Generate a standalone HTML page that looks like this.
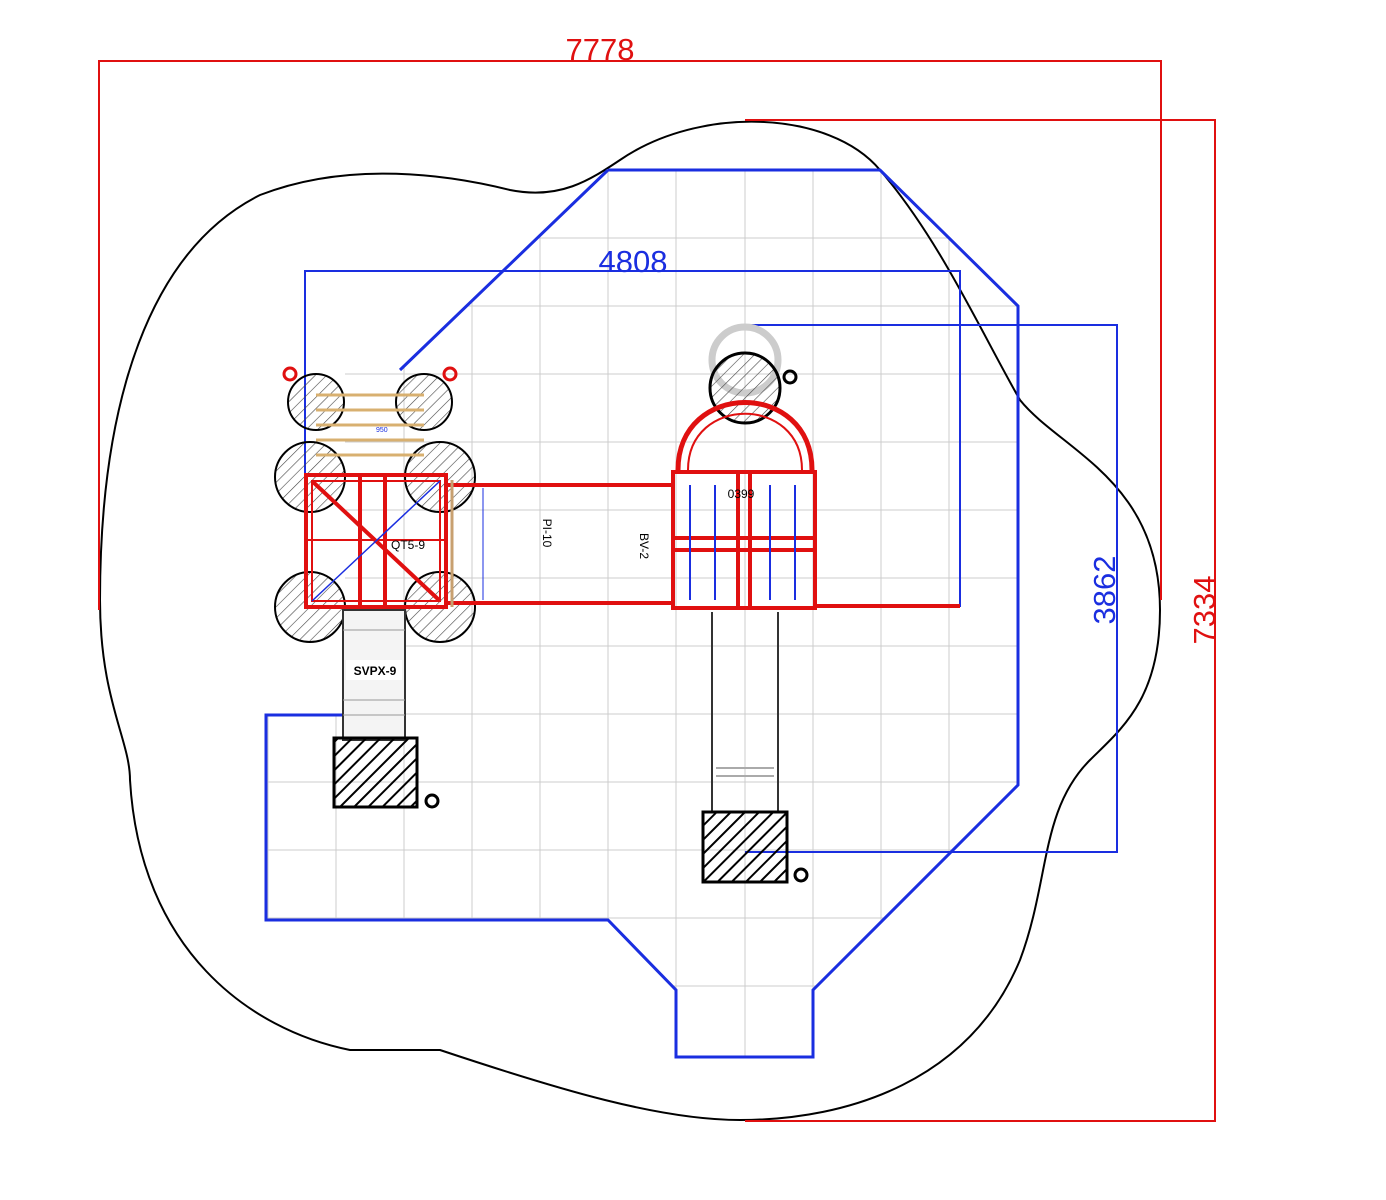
<!DOCTYPE html>
<html><head><meta charset="utf-8"><style>html,body{margin:0;padding:0;background:#fff}svg{display:block}</style></head>
<body>
<svg width="1386" height="1200" viewBox="0 0 1386 1200" xmlns="http://www.w3.org/2000/svg" font-family="Liberation Sans, sans-serif">
<defs>
<pattern id="h" patternUnits="userSpaceOnUse" width="8" height="8" patternTransform="rotate(45)"><line x1="0" y1="0" x2="0" y2="8" stroke="#444" stroke-width="1.2"/></pattern>
<pattern id="hb" patternUnits="userSpaceOnUse" width="10" height="10" patternTransform="rotate(45)"><line x1="0" y1="0" x2="0" y2="10" stroke="#000" stroke-width="4"/></pattern>
<clipPath id="safe"><path d="M608,170 L880,170 L1018,306 L1018,785 L813,990 L813,1057 L676,1057 L676,990 L608,920 L266,920 L266,715 L345,715 L345,370 L400,370 Z"/></clipPath>
</defs>
<!-- grid -->
<g clip-path="url(#safe)" stroke="#ccc" stroke-width="1">
<g id="gv">
<line x1="268" y1="100" x2="268" y2="1100"/><line x1="336" y1="100" x2="336" y2="1100"/><line x1="404" y1="100" x2="404" y2="1100"/><line x1="472" y1="100" x2="472" y2="1100"/><line x1="540" y1="100" x2="540" y2="1100"/><line x1="608" y1="100" x2="608" y2="1100"/><line x1="676" y1="100" x2="676" y2="1100"/><line x1="745" y1="100" x2="745" y2="1100"/><line x1="813" y1="100" x2="813" y2="1100"/><line x1="881" y1="100" x2="881" y2="1100"/><line x1="949" y1="100" x2="949" y2="1100"/>
<line x1="200" y1="170" x2="1100" y2="170"/><line x1="200" y1="238" x2="1100" y2="238"/><line x1="200" y1="306" x2="1100" y2="306"/><line x1="200" y1="374" x2="1100" y2="374"/><line x1="200" y1="442" x2="1100" y2="442"/><line x1="200" y1="510" x2="1100" y2="510"/><line x1="200" y1="578" x2="1100" y2="578"/><line x1="200" y1="646" x2="1100" y2="646"/><line x1="200" y1="714" x2="1100" y2="714"/><line x1="200" y1="782" x2="1100" y2="782"/><line x1="200" y1="850" x2="1100" y2="850"/><line x1="200" y1="918" x2="1100" y2="918"/><line x1="200" y1="986" x2="1100" y2="986"/>
</g></g>
<!-- blob -->
<path d="M510,190 C560,200 590,180 620,160 C700,105 830,110 880,170 C940,240 980,330 1020,400 C1060,450 1160,480 1160,610 C1160,700 1120,730 1090,760 C1040,810 1050,880 1020,960 C970,1080 850,1120 740,1120 C660,1120 560,1090 440,1050 L350,1050 C250,1030 140,950 130,780 C130,740 100,700 100,600 C100,400 150,250 260,195 C350,160 450,175 510,190 Z" fill="none" stroke="#000" stroke-width="2"/>
<!-- safety area -->
<path d="M608,170 L880,170 L1018,306 L1018,785 L813,990 L813,1057 L676,1057 L676,990 L608,920 L266,920 L266,715 L345,715 M400,370 L608,170" fill="none" stroke="#1a2ee0" stroke-width="3"/>
<!-- red dims -->
<g stroke="#e01010" stroke-width="2" fill="none">
<path d="M99,610 L99,61 L1161,61 L1161,600"/>
<path d="M745,120 L1215,120 L1215,1121 L745,1121"/>
</g>
<text x="600" y="60" fill="#e01010" font-size="31" text-anchor="middle">7778</text>
<text transform="translate(1215,610) rotate(-90)" fill="#e01010" font-size="31" text-anchor="middle">7334</text>
<!-- blue dims -->
<g stroke="#1a2ee0" stroke-width="2" fill="none">
<path d="M305,600 L305,271 L960,271 L960,607"/>
<path d="M745,325 L1117,325 L1117,852 L745,852"/>
</g>
<text x="633" y="272" fill="#1a2ee0" font-size="31" text-anchor="middle">4808</text>
<text transform="translate(1115,590) rotate(-90)" fill="#1a2ee0" font-size="31" text-anchor="middle">3862</text>
<!-- left tower -->
<g stroke="#000" stroke-width="2" fill="url(#h)">
<circle cx="316" cy="402" r="28"/><circle cx="424" cy="402" r="28"/>
<circle cx="310" cy="477" r="35"/><circle cx="440" cy="477" r="35"/>
<circle cx="310" cy="607" r="35"/><circle cx="440" cy="607" r="35"/>
</g>
<g stroke="#d8b070" stroke-width="3"><line x1="316" y1="395" x2="424" y2="395"/><line x1="316" y1="410" x2="424" y2="410"/><line x1="316" y1="425" x2="424" y2="425"/><line x1="316" y1="440" x2="424" y2="440"/><line x1="316" y1="455" x2="424" y2="455"/></g>
<g stroke="#e01010" stroke-width="4" fill="none">
<rect x="306" y="475" width="140" height="132"/>
<rect x="312" y="481" width="128" height="120" stroke-width="2"/>
<line x1="312" y1="481" x2="440" y2="601"/>
<line x1="360" y1="475" x2="360" y2="607"/><line x1="385" y1="475" x2="385" y2="607"/>
<line x1="306" y1="540" x2="446" y2="540" stroke-width="2"/>
</g>
<line x1="312" y1="601" x2="440" y2="481" stroke="#1a2ee0" stroke-width="1.5"/>
<text x="408" y="549" font-size="12" text-anchor="middle">QT5-9</text>
<text x="376" y="432" font-size="7" fill="#1a2ee0">950</text>
<circle cx="290" cy="374" r="6" fill="none" stroke="#e01010" stroke-width="3"/>
<circle cx="450" cy="374" r="6" fill="none" stroke="#e01010" stroke-width="3"/>
<!-- bridge -->
<g stroke="#e01010" stroke-width="4"><line x1="446" y1="485" x2="672" y2="485"/><line x1="446" y1="603" x2="672" y2="603"/></g>
<line x1="483" y1="488" x2="483" y2="600" stroke="#1a2ee0" stroke-width="1"/>
<line x1="452" y1="480" x2="452" y2="607" stroke="#c8a070" stroke-width="3"/>
<text transform="translate(543,533) rotate(90)" font-size="12" text-anchor="middle">PI-10</text>
<text transform="translate(640,546) rotate(90)" font-size="12" text-anchor="middle">BV-2</text>
<!-- right tower -->
<circle cx="745" cy="360" r="33" fill="none" stroke="#ccc" stroke-width="7"/>
<circle cx="745" cy="388" r="35" fill="url(#h)" stroke="#000" stroke-width="3"/>
<circle cx="790" cy="377" r="6" fill="none" stroke="#000" stroke-width="3"/>
<path d="M678,470 C678,380 812,380 812,470" fill="none" stroke="#e01010" stroke-width="5"/>
<path d="M688,470 C688,395 802,395 802,470" fill="none" stroke="#e01010" stroke-width="2"/>
<g stroke="#e01010" stroke-width="4" fill="none">
<rect x="673" y="472" width="142" height="136"/>
<line x1="738" y1="472" x2="738" y2="608"/><line x1="750" y1="472" x2="750" y2="608"/>
<line x1="673" y1="538" x2="815" y2="538"/><line x1="673" y1="550" x2="815" y2="550"/>
</g>
<g stroke="#1a2ee0" stroke-width="2"><line x1="690" y1="485" x2="690" y2="600"/><line x1="715" y1="485" x2="715" y2="600"/><line x1="770" y1="485" x2="770" y2="600"/><line x1="795" y1="485" x2="795" y2="600"/></g>
<text x="741" y="498" font-size="12" text-anchor="middle">0399</text>
<line x1="815" y1="606" x2="960" y2="606" stroke="#e01010" stroke-width="4"/>
<!-- slides -->
<rect x="343" y="610" width="62" height="130" fill="#f4f4f4" stroke="#333" stroke-width="2"/>
<g stroke="#999"><line x1="343" y1="630" x2="405" y2="630"/><line x1="343" y1="700" x2="405" y2="700"/><line x1="343" y1="715" x2="405" y2="715"/></g>
<rect x="346" y="660" width="56" height="20" fill="#fff"/>
<text x="375" y="675" font-size="12" font-weight="bold" text-anchor="middle">SVPX-9</text>
<rect x="334" y="738" width="83" height="69" fill="url(#hb)" stroke="#000" stroke-width="3"/>
<circle cx="432" cy="801" r="6" fill="none" stroke="#000" stroke-width="3"/>
<g stroke="#333" stroke-width="2"><line x1="712" y1="612" x2="712" y2="812"/><line x1="778" y1="612" x2="778" y2="812"/></g>
<g stroke="#aaa" stroke-width="2"><line x1="716" y1="768" x2="774" y2="768"/><line x1="716" y1="776" x2="774" y2="776"/></g>
<rect x="703" y="812" width="84" height="70" fill="url(#hb)" stroke="#000" stroke-width="3"/>
<circle cx="801" cy="875" r="6" fill="none" stroke="#000" stroke-width="3"/>
</svg>
</body></html>
